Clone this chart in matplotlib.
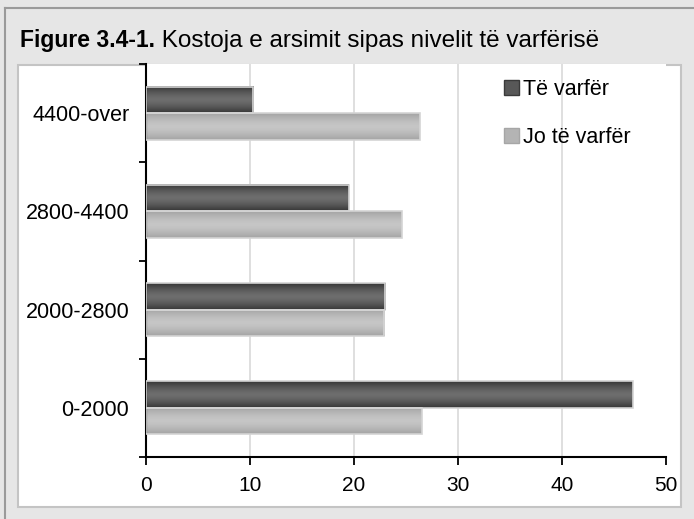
import numpy as np
import matplotlib
matplotlib.use("Agg")
import matplotlib.pyplot as plt
from matplotlib.patches import Rectangle, Patch
from matplotlib.lines import Line2D

plt.rcParams['font.family'] = ['Liberation Sans', 'DejaVu Sans']

# data
categories = ['0-2000', '2000-2800', '2800-4400', '4400-over']
te_varfer = [46.8, 23.0, 19.5, 10.3]
jo_te_varfer = [26.5, 22.9, 24.6, 26.3]
series_names = ['Të varfër', 'Jo të varfër']
x_ticks = [0, 10, 20, 30, 40, 50]

W, H = 694, 519
fig = plt.figure(figsize=(W / 100, H / 100), dpi=100)
fig.patch.set_facecolor('#e6e6e6')

# outer frame lines (left and top)
fig.add_artist(Line2D([5 / W, 5 / W], [0, 1 - 8 / H], color='#9a9a9a', lw=1.5,
                      transform=fig.transFigure))
fig.add_artist(Line2D([5 / W, 1], [1 - 8 / H, 1 - 8 / H], color='#9a9a9a', lw=1.5,
                      transform=fig.transFigure))

# white panel behind the chart
fig.add_artist(Rectangle((18 / W, 12 / H), 663 / W, 442 / H, transform=fig.transFigure,
                         facecolor='white', edgecolor='#c4c4c4', lw=1.5, zorder=-1))

# title: bold label + regular text
t1 = fig.text(20 / W, 1 - 47 / H, 'Figure 3.4-1.', fontsize=16.5, fontweight='bold',
              va='baseline', ha='left')

ax = fig.add_axes([146 / W, 62 / H, 520 / W, 393 / H])
ax.set_facecolor('white')
ax.annotate(' Kostoja e arsimit sipas nivelit të varfërisë', xy=(1, 0), xycoords=t1,
            va='bottom', ha='left', fontsize=17.5, annotation_clip=False)

y = np.arange(len(categories))
h = 0.27
off = 0.135


def gradient_bars(ax, ypos, widths, edge_col, mid_col):
    # vertical shading: darker at the edges, lighter in the middle
    t = np.linspace(0, 1, 40)
    prof = 1 - np.abs(2 * t - 1) ** 1.5
    c0 = np.array(matplotlib.colors.to_rgb(edge_col))
    c1 = np.array(matplotlib.colors.to_rgb(mid_col))
    img = c0[None, :] + (c1 - c0)[None, :] * prof[:, None]
    img = img[:, None, :]
    for yy, ww in zip(ypos, widths):
        ax.imshow(img, extent=(0, ww, yy - h / 2, yy + h / 2), aspect='auto',
                  interpolation='bilinear', zorder=2)
    ax.barh(ypos, widths, height=h, facecolor='none', edgecolor='#d4d4d4',
            lw=1.2, zorder=3)


gradient_bars(ax, y + off, te_varfer, '#363636', '#6e6e6e')
gradient_bars(ax, y - off, jo_te_varfer, '#a4a4a4', '#c6c6c6')

ax.set_xlim(0, 50)
ax.set_ylim(-0.5, 3.5)

ax.set_xticks(x_ticks)
ax.set_xticklabels([str(v) for v in x_ticks], fontsize=15)
ax.tick_params(axis='x', direction='out', length=6, width=1.3, pad=8, color='black')

ax.set_yticks(y)
ax.set_yticklabels(categories, fontsize=15.5)
ax.set_yticks(np.arange(-0.5, 3.6, 1), minor=True)
ax.tick_params(axis='y', which='major', length=0, pad=12)
ax.tick_params(axis='y', which='minor', direction='out', length=5, width=1.3)

ax.grid(axis='x', color='#d9d9d9', lw=1.2, zorder=0)
ax.xaxis.get_gridlines()[-1].set_visible(False)
ax.xaxis.get_gridlines()[0].set_visible(False)
ax.set_axisbelow(True)

for s in ['top', 'right']:
    ax.spines[s].set_visible(False)
for s in ['left', 'bottom']:
    ax.spines[s].set_linewidth(1.5)
    ax.spines[s].set_color('black')

handles = [Patch(facecolor='#585858', edgecolor='#3a3a3a'),
           Patch(facecolor='#b4b4b4', edgecolor='#a6a6a6')]
fig.legend(handles, series_names, loc='upper left', bbox_to_anchor=(504 / W, 1 - 79 / H),
           frameon=False, fontsize=15.5, handlelength=0.7, handleheight=0.7,
           handletextpad=0.2, labelspacing=1.25, borderpad=0, borderaxespad=0)

fig.savefig('out.png', dpi=100, facecolor=fig.get_facecolor())
